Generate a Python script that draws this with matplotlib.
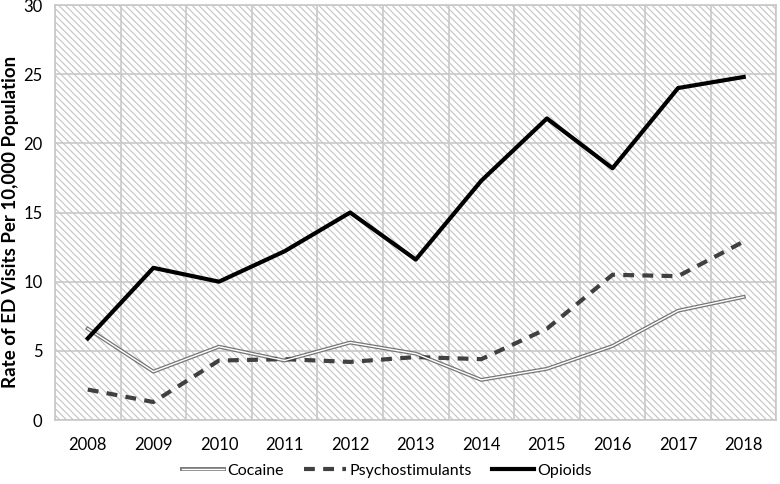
import numpy as np
import matplotlib.pyplot as plt
from matplotlib.patches import Rectangle
from matplotlib.legend_handler import HandlerTuple

plt.rcParams['font.family'] = ['Lato', 'DejaVu Sans']
plt.rcParams['hatch.linewidth'] = 0.8
plt.rcParams['hatch.color'] = '#c4c4c4'

anos = ['2008', '2009', '2010', '2011', '2012', '2013', '2014', '2015', '2016', '2017', '2018']
cocaina = [6.6, 3.5, 5.3, 4.3, 5.6, 4.8, 2.9, 3.7, 5.35, 7.9, 8.9]
psicoestimulantes = [2.2, 1.3, 4.3, 4.4, 4.2, 4.55, 4.4, 6.6, 10.5, 10.4, 12.9]
opioides = [5.9, 11.0, 10.0, 12.2, 15.0, 11.6, 17.3, 21.8, 18.2, 24.0, 24.8]

fig = plt.figure(figsize=(7.8, 4.84), dpi=100)
ax = fig.add_axes([0.0705, 0.1322, 0.925, 0.8574])

x = np.arange(len(anos))

# fundo hachurado
ax.add_patch(Rectangle((0, 0), 1, 1, transform=ax.transAxes, facecolor='white',
                       edgecolor='#c4c4c4', hatch='\\' * 5, lw=0, zorder=0))

ax.set_xlim(-0.5, len(anos) - 0.5)
ax.set_ylim(0, 30)
ax.set_yticks(range(0, 31, 5))
ax.set_xticks(x)
ax.set_xticklabels(anos)
ax.set_xticks(np.arange(-0.5, len(anos)), minor=True)
ax.grid(False)
ax.yaxis.grid(True, color='#c8c8c8', lw=1.2, zorder=1)
ax.xaxis.grid(True, which='minor', color='#c8c8c8', lw=1.2, zorder=1)
ax.set_axisbelow(True)
ax.tick_params(which='both', length=0, labelsize=12, colors='#000000')
ax.tick_params(axis='x', pad=12)
ax.tick_params(axis='y', pad=9)
for s in ax.spines.values():
    s.set_color('#c8c8c8')
    s.set_linewidth(1.2)

# cocaina com linha dupla
c1, = ax.plot(x, cocaina, color='#767676', lw=2.8, zorder=3)
c2, = ax.plot(x, cocaina, color='white', lw=1.0, zorder=4)
p, = ax.plot(x, psicoestimulantes, color='#404040', lw=3, ls=(0, (2.6, 2)), zorder=3)
o, = ax.plot(x, opioides, color='black', lw=3, zorder=5)

fig.text(11 / 780, 1 - 222 / 484, 'Rate of ED Visits Per 10,000 Population',
         rotation=90, ha='center', va='center', fontsize=13.5, fontweight='bold')

fig.legend([(c1, c2), p, o], ['Cocaine', 'Psychostimulants', 'Opioids'],
           handler_map={tuple: HandlerTuple(ndivide=1)},
           loc='center', bbox_to_anchor=(0.496, 0.028), ncol=3, frameon=False,
           fontsize=11.5, handlelength=2.6, handletextpad=0.2, columnspacing=1.3)

fig.savefig('out.png', dpi=100)
